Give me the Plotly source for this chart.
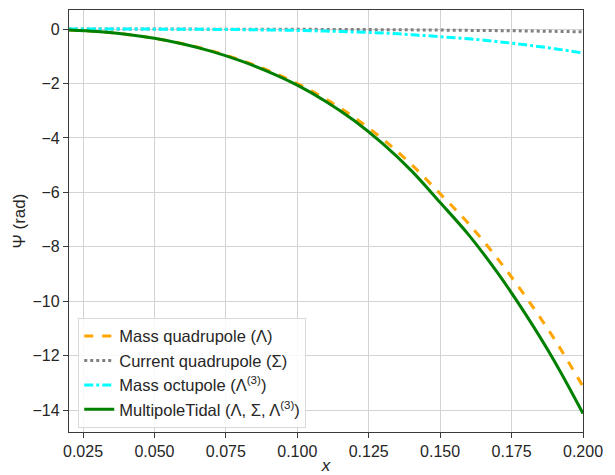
import plotly.graph_objects as go

x = [0.020, 0.030, 0.040, 0.050, 0.060, 0.070, 0.080, 0.090, 0.100, 0.110,
     0.120, 0.130, 0.140, 0.150, 0.160, 0.170, 0.180, 0.190, 0.200]

mass_quad = [-0.03, -0.09, -0.19, -0.34, -0.54, -0.80, -1.13, -1.53, -2.00, -2.57,
             -3.25, -4.05, -4.98, -6.05, -7.15, -8.42, -9.84, -11.39, -13.13]
current_quad = [0.0, 0.0, 0.0, -0.001, -0.002, -0.003, -0.005, -0.007, -0.01, -0.013,
                -0.018, -0.023, -0.03, -0.038, -0.048, -0.058, -0.07, -0.085, -0.10]
mass_oct = [0.0, 0.0, 0.0, -0.003, -0.006, -0.012, -0.02, -0.033, -0.05, -0.075,
            -0.105, -0.145, -0.205, -0.28, -0.36, -0.46, -0.58, -0.72, -0.88]
multipole_tidal = [-0.03, -0.09, -0.19, -0.34, -0.55, -0.82, -1.16, -1.57, -2.06, -2.66,
                   -3.37, -4.22, -5.21, -6.37, -7.56, -8.94, -10.49, -12.20, -14.12]

names = ["Mass quadrupole (Λ)", "Current quadrupole (Σ)",
         "Mass octupole (Λ<sup>(3)</sup>)", "MultipoleTidal (Λ, Σ, Λ<sup>(3)</sup>)"]
series = [mass_quad, current_quad, mass_oct, multipole_tidal]
colors = ["#FFA500", "#808080", "#00FFFF", "#008000"]
dashes = ["dash", "dot", "dashdot", "solid"]

x_ticks = [0.025, 0.05, 0.075, 0.1, 0.125, 0.15, 0.175, 0.2]
y_ticks = [0, -2, -4, -6, -8, -10, -12, -14]

fig = go.Figure()
for i, (n, s, c, d) in enumerate(zip(names, series, colors, dashes)):
    fig.add_trace(go.Scatter(x=x, y=s, name=n, mode="lines", legendgroup=f"g{i}",
                             line=dict(color=c, dash=d, width=3, shape="spline")))

axis_common = dict(showline=True, linecolor="#3a3a3a", linewidth=1.3, mirror=True,
                   showgrid=True, gridcolor="#d3d3d3", gridwidth=1, automargin=False,
                   ticks="outside", ticklen=5, tickcolor="#3a3a3a", zeroline=False,
                   tickfont=dict(size=16, color="#262626"))

fig.update_layout(
    width=615, height=475,
    margin=dict(l=69, r=32, t=10, b=43),
    paper_bgcolor="white", plot_bgcolor="white",
    font=dict(family="Liberation Sans, Arial", color="#262626"),
    xaxis=dict(range=[0.0201, 0.2], tickvals=x_ticks, tickformat=".3f",
               title=dict(text="<i>x</i>", font=dict(size=17), standoff=1), **axis_common),
    yaxis=dict(range=[-14.8, 0.7], tickvals=y_ticks,
               title=dict(text="Ψ (rad)", font=dict(size=17), standoff=2), **axis_common),
    legend=dict(x=0.018, y=0.01, xanchor="left", yanchor="bottom",
                bgcolor="rgba(255,255,255,0.85)", bordercolor="#d9d9d9", borderwidth=1,
                font=dict(size=16.5, color="#262626"), tracegroupgap=0),
    showlegend=True,
)

fig.write_html("out.html", config={"displayModeBar": False},
               post_script="document.body.style.margin='0';")
